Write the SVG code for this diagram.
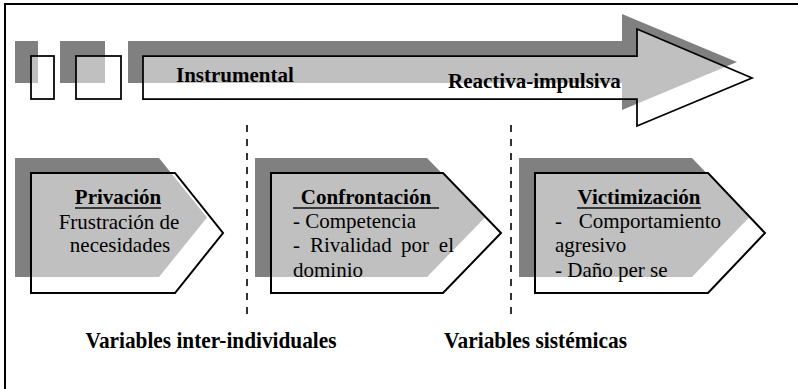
<svg xmlns="http://www.w3.org/2000/svg" width="798" height="389" viewBox="0 0 798 389">
  <style>
    .shadow { fill: #808080; stroke: none; }
    .front { fill: #ffffff; fill-opacity: 0.5; stroke: #000000; stroke-width: 2; stroke-linejoin: miter; }
    .thin { stroke-width: 1.75; }
    .t { font-family: "Liberation Serif", "Times New Roman", serif; font-size: 21px; fill: #000000; }
    .b { font-weight: bold; }
    .ul { stroke: #3a3a3a; stroke-width: 2; }
    .divider { stroke: #000000; stroke-width: 1.6; stroke-dasharray: 7 7; fill: none; }
  </style>

  <!-- outer frame -->
  <rect x="5" y="4" width="800" height="400" fill="#ffffff" stroke="#000000" stroke-width="2"/>

  <!-- top scale arrow with two lead-in blocks -->
  <g id="scale-arrow">
    <rect class="shadow" x="15" y="41" width="23" height="42"/>
    <rect class="shadow" x="60" y="41" width="45" height="42"/>
    <path class="shadow" d="M128,41 H622 V14 L737,62 L622,110 V83 H128 Z"/>
    <rect class="front thin" x="31" y="56" width="23" height="43"/>
    <rect class="front thin" x="76" y="56" width="45" height="43"/>
    <path class="front thin" d="M143,56 H637 V29 L752,78 L637,126 V99 H143 Z"/>
    <text class="t b" x="176" y="82">Instrumental</text>
    <text class="t b" x="448" y="88">Reactiva-impulsiva</text>
  </g>

  <!-- vertical separators -->
  <g id="connectors">
    <line class="divider" x1="247" y1="125" x2="247" y2="315"/>
    <line class="divider" x1="511" y1="125" x2="511" y2="315"/>
  </g>

  <!-- stage 1 -->
  <g id="privacion">
    <path class="shadow" d="M15,158 H159 L207,217.5 L159,277 H15 Z"/>
    <path class="front" d="M31,173 H175 L223,233 L175,293 H31 Z"/>
    <text class="t b" x="118" y="204" text-anchor="middle">Privación</text>
    <line class="ul" x1="75" y1="208" x2="161" y2="208"/>
    <text class="t" x="119" y="229" text-anchor="middle">Frustración de</text>
    <text class="t" x="120" y="252" text-anchor="middle">necesidades</text>
  </g>

  <!-- stage 2 -->
  <g id="confrontacion">
    <path class="shadow" d="M255,158 H427 L485,217.5 L427,277 H255 Z"/>
    <path class="front" d="M271,173 H443 L501,233 L443,293 H271 Z"/>
    <text class="t b" x="366" y="204" text-anchor="middle">Confrontación</text>
    <line class="ul" x1="293" y1="208" x2="439" y2="208"/>
    <text class="t" x="293" y="228">- Competencia</text>
    <text class="t" y="252"><tspan x="293">-</tspan><tspan x="310">Rivalidad</tspan><tspan x="401">por</tspan><tspan x="454" text-anchor="end">el</tspan></text>
    <text class="t" x="293" y="277">dominio</text>
  </g>

  <!-- stage 3 -->
  <g id="victimizacion">
    <path class="shadow" d="M519,158 H692 L749,217.5 L692,277 H519 Z"/>
    <path class="front" d="M535,173 H708 L765,233 L708,293 H535 Z"/>
    <text class="t b" x="639" y="204" text-anchor="middle">Victimización</text>
    <line class="ul" x1="577" y1="208" x2="701" y2="208"/>
    <text class="t" y="228"><tspan x="555">-</tspan><tspan x="721" text-anchor="end">Comportamiento</tspan></text>
    <text class="t" x="555" y="252">agresivo</text>
    <text class="t" x="555" y="277">- Daño per se</text>
  </g>

  <!-- bottom category labels -->
  <g id="labels">
    <text class="t b" x="85.5" y="348" style="font-size:22.5px" textLength="251" lengthAdjust="spacingAndGlyphs">Variables inter-individuales</text>
    <text class="t b" x="444" y="348" style="font-size:22.5px" textLength="183" lengthAdjust="spacingAndGlyphs">Variables sistémicas</text>
  </g>
</svg>
